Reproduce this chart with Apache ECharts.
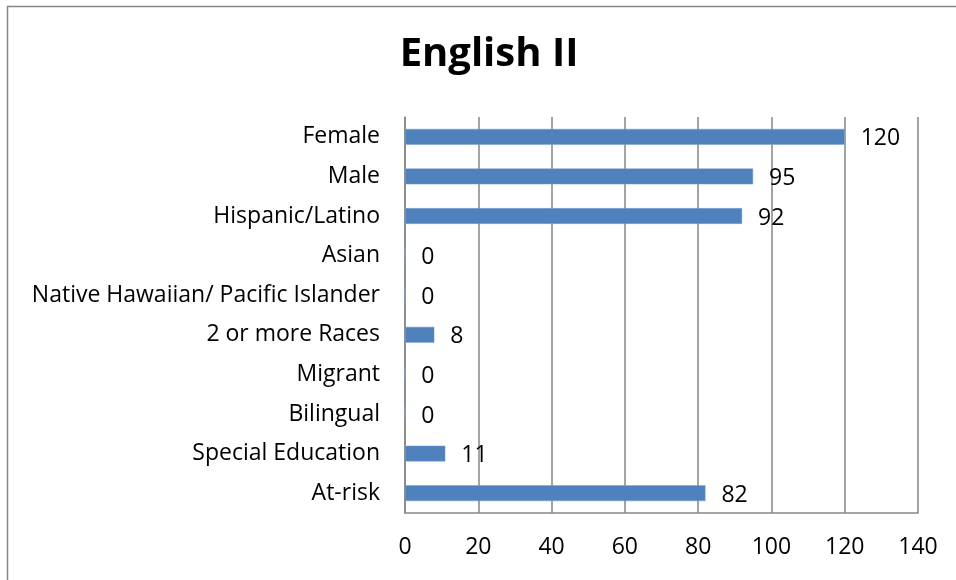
<!DOCTYPE html>
<html>
<head>
<meta charset="utf-8">
<script src="https://cdn.jsdelivr.net/npm/echarts@6/dist/echarts.min.js"></script>
<style>
  html, body { margin: 0; padding: 0; background: #fff; }
  #main { width: 956px; height: 580px; }
</style>
</head>
<body>
<div id="main"></div>
<script>
// categories top to bottom as in the picture
var categories = ['Female', 'Male', 'Hispanic/Latino', 'Asian', 'Native Hawaiian/ Pacific Islander',
  '2 or more Races', 'Migrant', 'Bilingual', 'Special Education', 'At-risk'];
var values = [120, 95, 92, 0, 0, 8, 0, 0, 11, 82];
var xTicks = [0, 20, 40, 60, 80, 100, 120, 140];

var chart = echarts.init(document.getElementById('main'));
var font = 'Open Sans';

var option = {
  backgroundColor: '#fff',
  animation: false,
  title: {
    text: 'English II',
    left: 484,
    textAlign: 'center',
    top: 30,
    textStyle: { fontFamily: font, fontSize: 40, fontWeight: 'bold', color: '#000' }
  },
  graphic: [{
    // chart frame: only left and top edges show
    type: 'rect',
    shape: { x: 7.5, y: 6.5, width: 1100, height: 700 },
    style: { fill: 'none', stroke: '#868686', lineWidth: 1.5 },
    silent: true
  }],
  grid: { left: 405, right: 38, top: 117, bottom: 67 },
  xAxis: {
    type: 'value',
    min: xTicks[0],
    max: xTicks[xTicks.length - 1],
    interval: 20,
    axisLine: { show: true, lineStyle: { color: '#868686', width: 1.5 } },
    axisTick: { show: false },
    axisLabel: { fontFamily: font, fontSize: 23, color: '#000', margin: 23 },
    splitLine: { show: true, lineStyle: { color: '#868686', width: 1.5 } }
  },
  yAxis: {
    type: 'category',
    inverse: true,
    data: categories,
    axisLine: { show: true, lineStyle: { color: '#868686', width: 1.5 } },
    axisTick: { show: false },
    axisLabel: { fontFamily: font, fontSize: 23, color: '#000', margin: 25 }
  },
  series: [{
    type: 'bar',
    data: values,
    barCategoryGap: '60%',
    itemStyle: { color: '#4F81BD', borderColor: '#7FA3D0', borderWidth: 0.5 },
    label: {
      show: true,
      position: 'right',
      distance: 16,
      fontFamily: font,
      fontSize: 23,
      color: '#000',
      offset: [0, 2]
    }
  }]
};

chart.setOption(option);
</script>
</body>
</html>
